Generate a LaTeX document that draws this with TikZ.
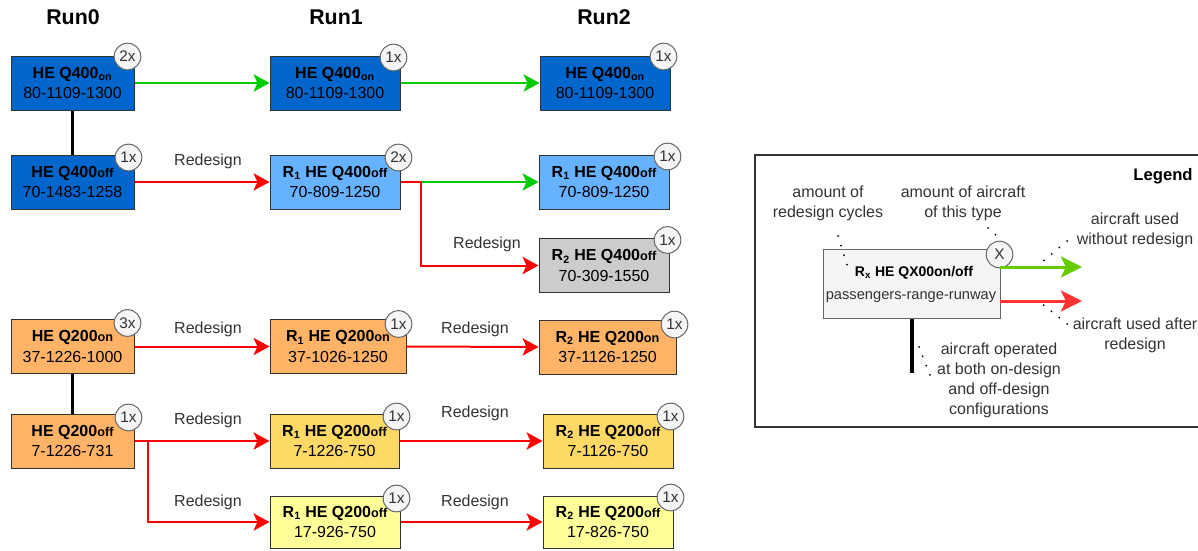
\documentclass[tikz,border=0pt]{standalone}
\usepackage{fontspec}
\setmainfont{Liberation Sans}
\usetikzlibrary{calc,arrows.meta}
\definecolor{dblue}{HTML}{0066CC}
\definecolor{lblue}{HTML}{66B2FF}
\definecolor{gbox}{HTML}{CCCCCC}
\definecolor{obox}{HTML}{FFB366}
\definecolor{ybox}{HTML}{FFD966}
\definecolor{lybox}{HTML}{FFFF99}
\definecolor{gline}{HTML}{00CC00}
\definecolor{rline}{HTML}{FF0000}
\definecolor{bstroke}{HTML}{333333}
\definecolor{cfill}{HTML}{F5F5F5}
\definecolor{cstroke}{HTML}{666666}
\definecolor{lgreen}{HTML}{66CC00}
\definecolor{lred}{HTML}{FF3333}
\newcommand\smsfx[1]{{\fontsize{9.5}{10}\selectfont #1}}
\tikzset{
 acbox/.style={draw=bstroke, line width=0.75pt, minimum height=40.5pt, inner sep=0pt, align=center, font=\fontsize{12}{15.5}\selectfont},
 badge/.style={circle, draw=cstroke, fill=cfill, line width=0.75pt, minimum size=20pt, inner sep=0pt, text=bstroke, font=\fontsize{11.5}{12}\selectfont},
 garr/.style={draw=gline, line width=1.5pt, -{Stealth[length=12pt,width=13pt,inset=3pt]}},
 rarr/.style={draw=rline, line width=1.5pt, -{Stealth[length=12pt,width=13pt,inset=3pt]}},
 link/.style={line width=1.75pt, draw=black},
 lbl/.style={font=\fontsize{12}{14}\selectfont, text=bstroke},
 hdr/.style={font=\bfseries\fontsize{16}{18}\selectfont},
 dots/.style={line width=1.5pt, line cap=round, dash pattern=on 0pt off 7.5pt},
 ltxt/.style={align=center, font=\fontsize{12}{15}\selectfont, text=bstroke}
}
\begin{document}
\begin{tikzpicture}[x=0.75pt,y=-0.75pt]
\useasboundingbox (0,0) rectangle (1198,550);
\clip (0,0) rectangle (1198,550);

% headers
\node[hdr] (h0) at (73,17) {Run0};
\node[hdr] (h1) at (336,17) {Run1};
\node[hdr] (h2) at (604,17) {Run2};

% Q400 boxes
\node[acbox, fill=dblue, minimum width=92.25pt] (q4on) at (72.5,83) {\textbf{HE Q400\textsubscript{on}}\\80-1109-1300};
\node[acbox, fill=dblue, minimum width=92.25pt] (q4off) at (72.5,182) {\textbf{HE Q400\smsfx{off}}\\70-1483-1258};
\node[acbox, fill=dblue, minimum width=97.5pt] (q4onb) at (335,83) {\textbf{HE Q400\textsubscript{on}}\\80-1109-1300};
\node[acbox, fill=lblue, minimum width=97.5pt] (r1q4off) at (335,182) {\textbf{R\textsubscript{1} HE Q400\smsfx{off}}\\70-809-1250};
\node[acbox, fill=dblue, minimum width=97.5pt] (q4onc) at (605,83) {\textbf{HE Q400\textsubscript{on}}\\80-1109-1300};
\node[acbox, fill=lblue, minimum width=97.5pt] (r1q4offb) at (604,182) {\textbf{R\textsubscript{1} HE Q400\smsfx{off}}\\70-809-1250};
\node[acbox, fill=gbox, minimum width=97.5pt] (r2q4off) at (604,265.5) {\textbf{R\textsubscript{2} HE Q400\smsfx{off}}\\70-309-1550};

% Q200 boxes
\node[acbox, fill=obox, minimum width=92.25pt] (q2on) at (72.5,346.5) {\textbf{HE Q200\smsfx{on}}\\37-1226-1000};
\node[acbox, fill=obox, minimum width=92.25pt] (q2off) at (72.5,441) {\textbf{HE Q200\smsfx{off}}\\7-1226-731};
\node[acbox, fill=obox, minimum width=102pt] (r1q2on) at (338,346.5) {\textbf{R\textsubscript{1} HE Q200\smsfx{on}}\\37-1026-1250};
\node[acbox, fill=ybox, minimum width=96.75pt] (r1q2offa) at (334.5,441) {\textbf{R\textsubscript{1} HE Q200\smsfx{off}}\\7-1226-750};
\node[acbox, fill=lybox, minimum width=97.5pt, minimum height=39pt] (r1q2offb) at (335,522) {\textbf{R\textsubscript{1} HE Q200\smsfx{off}}\\17-926-750};
\node[acbox, fill=obox, minimum width=102.75pt] (r2q2on) at (607.5,347) {\textbf{R\textsubscript{2} HE Q200\smsfx{on}}\\37-1126-1250};
\node[acbox, fill=ybox, minimum width=97.5pt] (r2q2offa) at (608,441) {\textbf{R\textsubscript{2} HE Q200\smsfx{off}}\\7-1126-750};
\node[acbox, fill=lybox, minimum width=97.5pt, minimum height=39pt] (r2q2offb) at (608,522) {\textbf{R\textsubscript{2} HE Q200\smsfx{off}}\\17-826-750};

% black links
\draw[link] (q4on) -- (q4off);
\draw[link] (q2on) -- (q2off);

% arrows
\draw[garr] (q4on.east) -- (q4onb.west);
\draw[garr] (q4onb.east) -- (q4onc.west);
\draw[rarr] (q4off.east) -- (r1q4off.west);
\draw[garr] (r1q4off.east) -- (r1q4offb.west);
\draw[rarr] (r1q4off.east) -- ++(20,0) |- (r2q4off.west);
\draw[rarr] (q2on.east) -- (r1q2on.west);
\draw[rarr] (r1q2on.east) -- (r2q2on.west);
\draw[rarr] (q2off.east) -- (r1q2offa.west);
\draw[rarr] (q2off.east) -- ++(13,0) |- (r1q2offb.west);
\draw[rarr] (r1q2offa.east) -- (r2q2offa.west);
\draw[rarr] (r1q2offb.east) -- (r2q2offb.west);

% labels
\node[lbl] (l1) at (208,161) {Redesign};
\node[lbl] (l2) at (487,244) {Redesign};
\node[lbl] (l3) at (208,329) {Redesign};
\node[lbl] (l4) at (475,329) {Redesign};
\node[lbl] (l5) at (208,420) {Redesign};
\node[lbl] (l6) at (475,413) {Redesign};
\node[lbl] (l7) at (208,502) {Redesign};
\node[lbl] (l8) at (475,502) {Redesign};

% badges
\node[badge] (b1) at ($(q4on.north east)+(-7,1)$) {2x};
\node[badge] (b2) at ($(q4off.north east)+(-6,3)$) {1x};
\node[badge] (b3) at ($(q4onb.north east)+(-7,2)$) {1x};
\node[badge] (b4) at ($(r1q4off.north east)+(-2,3)$) {2x};
\node[badge] (b5) at ($(q4onc.north east)+(-7,1)$) {1x};
\node[badge] (b6) at ($(r1q4offb.north east)+(-2,2)$) {1x};
\node[badge] (b7) at ($(r2q4off.north east)+(-2,2)$) {1x};
\node[badge] (b8) at ($(q2on.north east)+(-7,4)$) {3x};
\node[badge] (b9) at ($(q2off.north east)+(-6,4)$) {1x};
\node[badge] (b10) at ($(r1q2on.north east)+(-8,5)$) {1x};
\node[badge] (b11) at ($(r1q2offa.north east)+(-3,3)$) {1x};
\node[badge] (b12) at ($(r1q2offb.north east)+(-4,3)$) {1x};
\node[badge] (b13) at ($(r2q2on.north east)+(-2,5)$) {1x};
\node[badge] (b14) at ($(r2q2offa.north east)+(-3,3)$) {1x};
\node[badge] (b15) at ($(r2q2offb.north east)+(-3,2)$) {1x};

% legend
\draw[draw=bstroke, line width=1pt] (755,155) rectangle (1240,427);
\node[font=\bfseries\fontsize{12.5}{14}\selectfont] (lgt) at (1163,176) {Legend};
\node[draw=cstroke, fill=cfill, line width=0.75pt, minimum width=132.75pt, minimum height=51.75pt, inner sep=0pt] (lbox) at (911.5,283.5) {};
\node[font=\bfseries\fontsize{10.5}{12}\selectfont] (lt1) at (914,273) {R\textsubscript{x} HE QX00on/off};
\node[font=\fontsize{11}{13}\selectfont, text=bstroke] (lt2) at (911,297) {passengers-range-runway};
\node[badge, minimum size=20pt] (lx) at ($(lbox.north east)+(-1,6)$) {X};
\draw[draw=black, line width=3pt] (lbox.south -| 912,0) coordinate (lb0) -- (912,373) coordinate (lb1);
\coordinate (lg0) at (1000,267);
\coordinate (lg1) at (1082,267);
\coordinate (lr0) at (1000,301);
\coordinate (lr1) at (1082,301);
\draw[draw=lgreen, line width=2.25pt, -{Stealth[length=16pt,width=16pt,inset=4pt]}] (lg0) -- (lg1);
\draw[draw=lred, line width=2.25pt, -{Stealth[length=16pt,width=16pt,inset=4pt]}] (lr0) -- (lr1);

\node[ltxt] (a1) at (828,203) {amount of\\redesign cycles};
\node[ltxt] (a2) at (963,203) {amount of aircraft\\of this type};
\node[ltxt] (a3) at (1135,230) {aircraft used\\without redesign};
\node[ltxt] (a4) at (1135,335) {aircraft used after\\redesign};
\node[ltxt] (a5) at (999,380) {aircraft operated\\at both on-design\\and off-design\\configurations};

\draw[dots] (838,236) -- (848,268);
\draw[dots] (988,228) -- (998,237);
\draw[dots] (1067,241) -- (1041,263);
\draw[dots] (1067,324) -- (1041,303);
\draw[dots] (919,347) -- (932,380);
\end{tikzpicture}
\end{document}
